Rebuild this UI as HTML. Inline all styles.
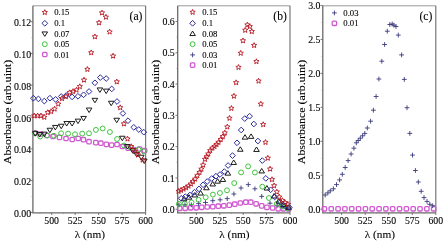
<!DOCTYPE html>
<html><head><meta charset="utf-8"><style>
html,body{margin:0;padding:0;background:#fff;width:445px;height:242px;overflow:hidden}
svg{display:block;will-change:transform}
text{font-family:"Liberation Serif", serif;fill:#000;stroke:#000;stroke-width:0.1px}
</style></head><body>
<svg width="445" height="242" viewBox="0 0 445 242">
<rect width="445" height="242" fill="#fff"/>
<path d="M32.90 5.80H145.60" stroke="#999" stroke-width="1.0" fill="none"/>
<path d="M145.60 5.80V212.80" stroke="#777" stroke-width="1.2" fill="none"/>
<path d="M32.90 5.80V212.80H145.60" stroke="#6a6a6a" stroke-width="1.3" fill="none"/>
<path d="M30.70 212.40H32.90" stroke="#6a6a6a" stroke-width="0.9"/>
<path d="M30.70 180.62H32.90" stroke="#6a6a6a" stroke-width="0.9"/>
<path d="M30.70 148.83H32.90" stroke="#6a6a6a" stroke-width="0.9"/>
<path d="M30.70 117.05H32.90" stroke="#6a6a6a" stroke-width="0.9"/>
<path d="M30.70 85.26H32.90" stroke="#6a6a6a" stroke-width="0.9"/>
<path d="M30.70 53.48H32.90" stroke="#6a6a6a" stroke-width="0.9"/>
<path d="M30.70 21.70H32.90" stroke="#6a6a6a" stroke-width="0.9"/>
<path d="M31.60 196.51H32.90" stroke="#888" stroke-width="0.6"/>
<path d="M31.60 164.72H32.90" stroke="#888" stroke-width="0.6"/>
<path d="M31.60 132.94H32.90" stroke="#888" stroke-width="0.6"/>
<path d="M31.60 101.16H32.90" stroke="#888" stroke-width="0.6"/>
<path d="M31.60 69.37H32.90" stroke="#888" stroke-width="0.6"/>
<path d="M31.60 37.59H32.90" stroke="#888" stroke-width="0.6"/>
<path d="M51.68 212.80V215.00" stroke="#6a6a6a" stroke-width="0.9"/>
<path d="M75.16 212.80V215.00" stroke="#6a6a6a" stroke-width="0.9"/>
<path d="M98.64 212.80V215.00" stroke="#6a6a6a" stroke-width="0.9"/>
<path d="M122.12 212.80V215.00" stroke="#6a6a6a" stroke-width="0.9"/>
<path d="M145.60 212.80V215.00" stroke="#6a6a6a" stroke-width="0.9"/>
<path d="M39.94 212.80V214.10" stroke="#888" stroke-width="0.6"/>
<path d="M63.42 212.80V214.10" stroke="#888" stroke-width="0.6"/>
<path d="M86.90 212.80V214.10" stroke="#888" stroke-width="0.6"/>
<path d="M110.38 212.80V214.10" stroke="#888" stroke-width="0.6"/>
<path d="M133.86 212.80V214.10" stroke="#888" stroke-width="0.6"/>
<text transform="translate(31.20 216.90) scale(1 1.030)" font-size="9.9" text-anchor="end" >0.00</text>
<text transform="translate(31.20 185.12) scale(1 1.030)" font-size="9.9" text-anchor="end" >0.02</text>
<text transform="translate(31.20 153.33) scale(1 1.030)" font-size="9.9" text-anchor="end" >0.04</text>
<text transform="translate(31.20 121.55) scale(1 1.030)" font-size="9.9" text-anchor="end" >0.06</text>
<text transform="translate(31.20 89.76) scale(1 1.030)" font-size="9.9" text-anchor="end" >0.08</text>
<text transform="translate(31.20 57.98) scale(1 1.030)" font-size="9.9" text-anchor="end" >0.10</text>
<text transform="translate(31.20 26.20) scale(1 1.030)" font-size="9.9" text-anchor="end" >0.12</text>
<text transform="translate(51.68 224.10) scale(1 0.970)" font-size="9.8" text-anchor="middle" >500</text>
<text transform="translate(75.16 224.10) scale(1 0.970)" font-size="9.8" text-anchor="middle" >525</text>
<text transform="translate(98.64 224.10) scale(1 0.970)" font-size="9.8" text-anchor="middle" >550</text>
<text transform="translate(122.12 224.10) scale(1 0.970)" font-size="9.8" text-anchor="middle" >575</text>
<text transform="translate(145.60 224.10) scale(1 0.970)" font-size="9.8" text-anchor="middle" >600</text>
<text x="89.85" y="237.50" font-size="11.3" text-anchor="middle" >&#955; (nm)</text>
<text x="0" y="0" font-size="11.2" text-anchor="middle" transform="translate(11.00 112.00) scale(1 1.063) rotate(-90)">Absorbance (arb.uint)</text>
<text x="142.40" y="20.40" font-size="11.6" text-anchor="end" >(a)</text>
<path d="M177.70 5.80H290.00" stroke="#999" stroke-width="1.0" fill="none"/>
<path d="M290.00 5.80V212.80" stroke="#777" stroke-width="1.2" fill="none"/>
<path d="M177.70 5.80V212.80H290.00" stroke="#6a6a6a" stroke-width="1.3" fill="none"/>
<path d="M175.50 209.27H177.70" stroke="#6a6a6a" stroke-width="0.9"/>
<path d="M175.50 177.97H177.70" stroke="#6a6a6a" stroke-width="0.9"/>
<path d="M175.50 146.67H177.70" stroke="#6a6a6a" stroke-width="0.9"/>
<path d="M175.50 115.37H177.70" stroke="#6a6a6a" stroke-width="0.9"/>
<path d="M175.50 84.07H177.70" stroke="#6a6a6a" stroke-width="0.9"/>
<path d="M175.50 52.77H177.70" stroke="#6a6a6a" stroke-width="0.9"/>
<path d="M175.50 21.47H177.70" stroke="#6a6a6a" stroke-width="0.9"/>
<path d="M176.40 193.62H177.70" stroke="#888" stroke-width="0.6"/>
<path d="M176.40 162.32H177.70" stroke="#888" stroke-width="0.6"/>
<path d="M176.40 131.02H177.70" stroke="#888" stroke-width="0.6"/>
<path d="M176.40 99.72H177.70" stroke="#888" stroke-width="0.6"/>
<path d="M176.40 68.42H177.70" stroke="#888" stroke-width="0.6"/>
<path d="M176.40 37.12H177.70" stroke="#888" stroke-width="0.6"/>
<path d="M196.42 212.80V215.00" stroke="#6a6a6a" stroke-width="0.9"/>
<path d="M219.81 212.80V215.00" stroke="#6a6a6a" stroke-width="0.9"/>
<path d="M243.21 212.80V215.00" stroke="#6a6a6a" stroke-width="0.9"/>
<path d="M266.60 212.80V215.00" stroke="#6a6a6a" stroke-width="0.9"/>
<path d="M290.00 212.80V215.00" stroke="#6a6a6a" stroke-width="0.9"/>
<path d="M184.72 212.80V214.10" stroke="#888" stroke-width="0.6"/>
<path d="M208.11 212.80V214.10" stroke="#888" stroke-width="0.6"/>
<path d="M231.51 212.80V214.10" stroke="#888" stroke-width="0.6"/>
<path d="M254.91 212.80V214.10" stroke="#888" stroke-width="0.6"/>
<path d="M278.30 212.80V214.10" stroke="#888" stroke-width="0.6"/>
<text transform="translate(174.80 212.87) scale(1 1.030)" font-size="9.9" text-anchor="end" >0.0</text>
<text transform="translate(174.80 181.57) scale(1 1.030)" font-size="9.9" text-anchor="end" >0.1</text>
<text transform="translate(174.80 150.27) scale(1 1.030)" font-size="9.9" text-anchor="end" >0.2</text>
<text transform="translate(174.80 118.97) scale(1 1.030)" font-size="9.9" text-anchor="end" >0.3</text>
<text transform="translate(174.80 87.67) scale(1 1.030)" font-size="9.9" text-anchor="end" >0.4</text>
<text transform="translate(174.80 56.37) scale(1 1.030)" font-size="9.9" text-anchor="end" >0.5</text>
<text transform="translate(174.80 25.07) scale(1 1.030)" font-size="9.9" text-anchor="end" >0.6</text>
<text transform="translate(196.42 224.10) scale(1 0.970)" font-size="9.8" text-anchor="middle" >500</text>
<text transform="translate(219.81 224.10) scale(1 0.970)" font-size="9.8" text-anchor="middle" >525</text>
<text transform="translate(243.21 224.10) scale(1 0.970)" font-size="9.8" text-anchor="middle" >550</text>
<text transform="translate(266.60 224.10) scale(1 0.970)" font-size="9.8" text-anchor="middle" >575</text>
<text transform="translate(290.00 224.10) scale(1 0.970)" font-size="9.8" text-anchor="middle" >600</text>
<text x="234.45" y="237.50" font-size="11.3" text-anchor="middle" >&#955; (nm)</text>
<text x="0" y="0" font-size="11.2" text-anchor="middle" transform="translate(159.00 112.00) scale(1 1.063) rotate(-90)">Absorbance (arb.uint)</text>
<text x="286.80" y="20.40" font-size="11.6" text-anchor="end" >(b)</text>
<path d="M322.80 5.80H435.80" stroke="#999" stroke-width="1.0" fill="none"/>
<path d="M435.80 5.80V212.80" stroke="#777" stroke-width="1.2" fill="none"/>
<path d="M322.80 5.80V212.80H435.80" stroke="#6a6a6a" stroke-width="1.3" fill="none"/>
<path d="M320.60 209.20H322.80" stroke="#6a6a6a" stroke-width="0.9"/>
<path d="M320.60 175.25H322.80" stroke="#6a6a6a" stroke-width="0.9"/>
<path d="M320.60 141.30H322.80" stroke="#6a6a6a" stroke-width="0.9"/>
<path d="M320.60 107.35H322.80" stroke="#6a6a6a" stroke-width="0.9"/>
<path d="M320.60 73.40H322.80" stroke="#6a6a6a" stroke-width="0.9"/>
<path d="M320.60 39.45H322.80" stroke="#6a6a6a" stroke-width="0.9"/>
<path d="M320.60 5.50H322.80" stroke="#6a6a6a" stroke-width="0.9"/>
<path d="M321.50 192.22H322.80" stroke="#888" stroke-width="0.6"/>
<path d="M321.50 158.27H322.80" stroke="#888" stroke-width="0.6"/>
<path d="M321.50 124.32H322.80" stroke="#888" stroke-width="0.6"/>
<path d="M321.50 90.37H322.80" stroke="#888" stroke-width="0.6"/>
<path d="M321.50 56.42H322.80" stroke="#888" stroke-width="0.6"/>
<path d="M321.50 22.47H322.80" stroke="#888" stroke-width="0.6"/>
<path d="M341.63 212.80V215.00" stroke="#6a6a6a" stroke-width="0.9"/>
<path d="M365.18 212.80V215.00" stroke="#6a6a6a" stroke-width="0.9"/>
<path d="M388.72 212.80V215.00" stroke="#6a6a6a" stroke-width="0.9"/>
<path d="M412.26 212.80V215.00" stroke="#6a6a6a" stroke-width="0.9"/>
<path d="M435.80 212.80V215.00" stroke="#6a6a6a" stroke-width="0.9"/>
<path d="M329.86 212.80V214.10" stroke="#888" stroke-width="0.6"/>
<path d="M353.40 212.80V214.10" stroke="#888" stroke-width="0.6"/>
<path d="M376.95 212.80V214.10" stroke="#888" stroke-width="0.6"/>
<path d="M400.49 212.80V214.10" stroke="#888" stroke-width="0.6"/>
<path d="M424.03 212.80V214.10" stroke="#888" stroke-width="0.6"/>
<text transform="translate(320.50 212.70) scale(1 1.030)" font-size="9.9" text-anchor="end" >0.0</text>
<text transform="translate(320.50 178.75) scale(1 1.030)" font-size="9.9" text-anchor="end" >0.5</text>
<text transform="translate(320.50 144.80) scale(1 1.030)" font-size="9.9" text-anchor="end" >1.0</text>
<text transform="translate(320.50 110.85) scale(1 1.030)" font-size="9.9" text-anchor="end" >1.5</text>
<text transform="translate(320.50 76.90) scale(1 1.030)" font-size="9.9" text-anchor="end" >2.0</text>
<text transform="translate(320.50 42.95) scale(1 1.030)" font-size="9.9" text-anchor="end" >2.5</text>
<text transform="translate(320.50 9.00) scale(1 1.030)" font-size="9.9" text-anchor="end" >3.0</text>
<text transform="translate(341.63 224.10) scale(1 0.970)" font-size="9.8" text-anchor="middle" >500</text>
<text transform="translate(365.18 224.10) scale(1 0.970)" font-size="9.8" text-anchor="middle" >525</text>
<text transform="translate(388.72 224.10) scale(1 0.970)" font-size="9.8" text-anchor="middle" >550</text>
<text transform="translate(412.26 224.10) scale(1 0.970)" font-size="9.8" text-anchor="middle" >575</text>
<text transform="translate(435.80 224.10) scale(1 0.970)" font-size="9.8" text-anchor="middle" >600</text>
<text x="379.90" y="237.50" font-size="11.3" text-anchor="middle" >&#955; (nm)</text>
<text x="0" y="0" font-size="11.2" text-anchor="middle" transform="translate(305.20 112.00) scale(1 1.063) rotate(-90)">Absorbance (arb.uint)</text>
<text x="432.30" y="20.40" font-size="11.6" text-anchor="end" >(c)</text>
<rect x="32.80" y="130.60" width="4.40" height="4.40" rx="1.1" fill="none" stroke="#d058d0" stroke-width="1.3"/>
<rect x="38.80" y="131.80" width="4.40" height="4.40" rx="1.1" fill="none" stroke="#d058d0" stroke-width="1.3"/>
<rect x="44.80" y="133.30" width="4.40" height="4.40" rx="1.1" fill="none" stroke="#d058d0" stroke-width="1.3"/>
<rect x="50.80" y="134.30" width="4.40" height="4.40" rx="1.1" fill="none" stroke="#d058d0" stroke-width="1.3"/>
<rect x="57.30" y="135.20" width="4.40" height="4.40" rx="1.1" fill="none" stroke="#d058d0" stroke-width="1.3"/>
<rect x="63.80" y="136.30" width="4.40" height="4.40" rx="1.1" fill="none" stroke="#d058d0" stroke-width="1.3"/>
<rect x="70.00" y="137.30" width="4.40" height="4.40" rx="1.1" fill="none" stroke="#d058d0" stroke-width="1.3"/>
<rect x="76.00" y="136.30" width="4.40" height="4.40" rx="1.1" fill="none" stroke="#d058d0" stroke-width="1.3"/>
<rect x="81.20" y="137.50" width="4.40" height="4.40" rx="1.1" fill="none" stroke="#d058d0" stroke-width="1.3"/>
<rect x="86.80" y="139.50" width="4.40" height="4.40" rx="1.1" fill="none" stroke="#d058d0" stroke-width="1.3"/>
<rect x="93.60" y="140.40" width="4.40" height="4.40" rx="1.1" fill="none" stroke="#d058d0" stroke-width="1.3"/>
<rect x="98.60" y="141.00" width="4.40" height="4.40" rx="1.1" fill="none" stroke="#d058d0" stroke-width="1.3"/>
<rect x="104.10" y="142.20" width="4.40" height="4.40" rx="1.1" fill="none" stroke="#d058d0" stroke-width="1.3"/>
<rect x="109.40" y="142.90" width="4.40" height="4.40" rx="1.1" fill="none" stroke="#d058d0" stroke-width="1.3"/>
<rect x="114.80" y="142.30" width="4.40" height="4.40" rx="1.1" fill="none" stroke="#d058d0" stroke-width="1.3"/>
<rect x="120.10" y="144.30" width="4.40" height="4.40" rx="1.1" fill="none" stroke="#d058d0" stroke-width="1.3"/>
<rect x="125.90" y="145.90" width="4.40" height="4.40" rx="1.1" fill="none" stroke="#d058d0" stroke-width="1.3"/>
<rect x="131.70" y="147.30" width="4.40" height="4.40" rx="1.1" fill="none" stroke="#d058d0" stroke-width="1.3"/>
<rect x="137.50" y="146.80" width="4.40" height="4.40" rx="1.1" fill="none" stroke="#d058d0" stroke-width="1.3"/>
<rect x="142.40" y="148.40" width="4.40" height="4.40" rx="1.1" fill="none" stroke="#d058d0" stroke-width="1.3"/>
<circle cx="35.00" cy="133.30" r="2.45" fill="none" stroke="#3ec43e" stroke-width="1.0"/>
<circle cx="40.20" cy="136.50" r="2.45" fill="none" stroke="#3ec43e" stroke-width="1.0"/>
<circle cx="47.20" cy="135.50" r="2.45" fill="none" stroke="#3ec43e" stroke-width="1.0"/>
<circle cx="54.00" cy="135.80" r="2.45" fill="none" stroke="#3ec43e" stroke-width="1.0"/>
<circle cx="61.10" cy="133.30" r="2.45" fill="none" stroke="#3ec43e" stroke-width="1.0"/>
<circle cx="68.10" cy="133.60" r="2.45" fill="none" stroke="#3ec43e" stroke-width="1.0"/>
<circle cx="75.00" cy="134.30" r="2.45" fill="none" stroke="#3ec43e" stroke-width="1.0"/>
<circle cx="82.20" cy="133.60" r="2.45" fill="none" stroke="#3ec43e" stroke-width="1.0"/>
<circle cx="89.00" cy="133.30" r="2.45" fill="none" stroke="#3ec43e" stroke-width="1.0"/>
<circle cx="95.90" cy="129.90" r="2.45" fill="none" stroke="#3ec43e" stroke-width="1.0"/>
<circle cx="102.70" cy="128.50" r="2.45" fill="none" stroke="#3ec43e" stroke-width="1.0"/>
<circle cx="109.90" cy="132.00" r="2.45" fill="none" stroke="#3ec43e" stroke-width="1.0"/>
<circle cx="117.10" cy="139.00" r="2.45" fill="none" stroke="#3ec43e" stroke-width="1.0"/>
<circle cx="124.00" cy="145.50" r="2.45" fill="none" stroke="#3ec43e" stroke-width="1.0"/>
<circle cx="131.00" cy="148.00" r="2.45" fill="none" stroke="#3ec43e" stroke-width="1.0"/>
<circle cx="138.30" cy="149.50" r="2.45" fill="none" stroke="#3ec43e" stroke-width="1.0"/>
<circle cx="143.80" cy="151.40" r="2.45" fill="none" stroke="#3ec43e" stroke-width="1.0"/>
<polygon points="32.50,131.64 38.10,131.64 35.30,136.12" fill="none" stroke="#111" stroke-width="0.95"/>
<polygon points="36.80,132.54 42.40,132.54 39.60,137.02" fill="none" stroke="#111" stroke-width="0.95"/>
<polygon points="41.50,132.14 47.10,132.14 44.30,136.62" fill="none" stroke="#111" stroke-width="0.95"/>
<polygon points="47.10,128.24 52.70,128.24 49.90,132.72" fill="none" stroke="#111" stroke-width="0.95"/>
<polygon points="52.50,125.44 58.10,125.44 55.30,129.92" fill="none" stroke="#111" stroke-width="0.95"/>
<polygon points="58.40,124.24 64.00,124.24 61.20,128.72" fill="none" stroke="#111" stroke-width="0.95"/>
<polygon points="63.90,121.54 69.50,121.54 66.70,126.02" fill="none" stroke="#111" stroke-width="0.95"/>
<polygon points="69.30,121.54 74.90,121.54 72.10,126.02" fill="none" stroke="#111" stroke-width="0.95"/>
<polygon points="75.20,119.14 80.80,119.14 78.00,123.62" fill="none" stroke="#111" stroke-width="0.95"/>
<polygon points="80.80,116.44 86.40,116.44 83.60,120.92" fill="none" stroke="#111" stroke-width="0.95"/>
<polygon points="86.30,108.04 91.90,108.04 89.10,112.52" fill="none" stroke="#111" stroke-width="0.95"/>
<polygon points="92.10,98.34 97.70,98.34 94.90,102.82" fill="none" stroke="#111" stroke-width="0.95"/>
<polygon points="97.10,87.94 102.70,87.94 99.90,92.42" fill="none" stroke="#111" stroke-width="0.95"/>
<polygon points="103.40,89.14 109.00,89.14 106.20,93.62" fill="none" stroke="#111" stroke-width="0.95"/>
<polygon points="108.40,101.24 114.00,101.24 111.20,105.72" fill="none" stroke="#111" stroke-width="0.95"/>
<polygon points="113.90,118.24 119.50,118.24 116.70,122.72" fill="none" stroke="#111" stroke-width="0.95"/>
<polygon points="119.50,136.24 125.10,136.24 122.30,140.72" fill="none" stroke="#111" stroke-width="0.95"/>
<polygon points="124.60,144.54 130.20,144.54 127.40,149.02" fill="none" stroke="#111" stroke-width="0.95"/>
<polygon points="129.90,148.64 135.50,148.64 132.70,153.12" fill="none" stroke="#111" stroke-width="0.95"/>
<polygon points="133.90,152.44 139.50,152.44 136.70,156.92" fill="none" stroke="#111" stroke-width="0.95"/>
<polygon points="138.50,155.24 144.10,155.24 141.30,159.72" fill="none" stroke="#111" stroke-width="0.95"/>
<polygon points="141.50,159.04 147.10,159.04 144.30,163.52" fill="none" stroke="#111" stroke-width="0.95"/>
<polygon points="33.40,95.35 36.25,98.20 33.40,101.05 30.55,98.20" fill="none" stroke="#2a2a9e" stroke-width="1.0"/>
<polygon points="38.40,96.05 41.25,98.90 38.40,101.75 35.55,98.90" fill="none" stroke="#2a2a9e" stroke-width="1.0"/>
<polygon points="44.30,98.25 47.15,101.10 44.30,103.95 41.45,101.10" fill="none" stroke="#2a2a9e" stroke-width="1.0"/>
<polygon points="49.90,95.35 52.75,98.20 49.90,101.05 47.05,98.20" fill="none" stroke="#2a2a9e" stroke-width="1.0"/>
<polygon points="55.60,96.55 58.45,99.40 55.60,102.25 52.75,99.40" fill="none" stroke="#2a2a9e" stroke-width="1.0"/>
<polygon points="61.20,93.65 64.05,96.50 61.20,99.35 58.35,96.50" fill="none" stroke="#2a2a9e" stroke-width="1.0"/>
<polygon points="66.20,92.65 69.05,95.50 66.20,98.35 63.35,95.50" fill="none" stroke="#2a2a9e" stroke-width="1.0"/>
<polygon points="72.10,94.05 74.95,96.90 72.10,99.75 69.25,96.90" fill="none" stroke="#2a2a9e" stroke-width="1.0"/>
<polygon points="78.00,93.45 80.85,96.30 78.00,99.15 75.15,96.30" fill="none" stroke="#2a2a9e" stroke-width="1.0"/>
<polygon points="83.60,91.95 86.45,94.80 83.60,97.65 80.75,94.80" fill="none" stroke="#2a2a9e" stroke-width="1.0"/>
<polygon points="89.00,88.65 91.85,91.50 89.00,94.35 86.15,91.50" fill="none" stroke="#2a2a9e" stroke-width="1.0"/>
<polygon points="94.90,79.95 97.75,82.80 94.90,85.65 92.05,82.80" fill="none" stroke="#2a2a9e" stroke-width="1.0"/>
<polygon points="100.30,74.75 103.15,77.60 100.30,80.45 97.45,77.60" fill="none" stroke="#2a2a9e" stroke-width="1.0"/>
<polygon points="106.20,75.65 109.05,78.50 106.20,81.35 103.35,78.50" fill="none" stroke="#2a2a9e" stroke-width="1.0"/>
<polygon points="111.70,86.05 114.55,88.90 111.70,91.75 108.85,88.90" fill="none" stroke="#2a2a9e" stroke-width="1.0"/>
<polygon points="117.00,98.65 119.85,101.50 117.00,104.35 114.15,101.50" fill="none" stroke="#2a2a9e" stroke-width="1.0"/>
<polygon points="122.90,110.55 125.75,113.40 122.90,116.25 120.05,113.40" fill="none" stroke="#2a2a9e" stroke-width="1.0"/>
<polygon points="128.00,117.85 130.85,120.70 128.00,123.55 125.15,120.70" fill="none" stroke="#2a2a9e" stroke-width="1.0"/>
<polygon points="133.80,124.45 136.65,127.30 133.80,130.15 130.95,127.30" fill="none" stroke="#2a2a9e" stroke-width="1.0"/>
<polygon points="138.80,126.65 141.65,129.50 138.80,132.35 135.95,129.50" fill="none" stroke="#2a2a9e" stroke-width="1.0"/>
<polygon points="143.80,129.35 146.65,132.20 143.80,135.05 140.95,132.20" fill="none" stroke="#2a2a9e" stroke-width="1.0"/>
<polygon points="34.20,113.05 34.93,114.80 36.82,114.95 35.38,116.18 35.82,118.02 34.20,117.04 32.58,118.02 33.02,116.18 31.58,114.95 33.47,114.80" fill="none" stroke="#b81e28" stroke-width="0.95" stroke-linejoin="miter"/>
<polygon points="37.60,113.05 38.33,114.80 40.22,114.95 38.78,116.18 39.22,118.02 37.60,117.04 35.98,118.02 36.42,116.18 34.98,114.95 36.87,114.80" fill="none" stroke="#b81e28" stroke-width="0.95" stroke-linejoin="miter"/>
<polygon points="41.00,113.05 41.73,114.80 43.62,114.95 42.18,116.18 42.62,118.02 41.00,117.04 39.38,118.02 39.82,116.18 38.38,114.95 40.27,114.80" fill="none" stroke="#b81e28" stroke-width="0.95" stroke-linejoin="miter"/>
<polygon points="44.30,114.45 45.03,116.20 46.92,116.35 45.48,117.58 45.92,119.42 44.30,118.44 42.68,119.42 43.12,117.58 41.68,116.35 43.57,116.20" fill="none" stroke="#b81e28" stroke-width="0.95" stroke-linejoin="miter"/>
<polygon points="47.70,109.75 48.43,111.50 50.32,111.65 48.88,112.88 49.32,114.72 47.70,113.74 46.08,114.72 46.52,112.88 45.08,111.65 46.97,111.50" fill="none" stroke="#b81e28" stroke-width="0.95" stroke-linejoin="miter"/>
<polygon points="51.10,108.75 51.83,110.50 53.72,110.65 52.28,111.88 52.72,113.72 51.10,112.74 49.48,113.72 49.92,111.88 48.48,110.65 50.37,110.50" fill="none" stroke="#b81e28" stroke-width="0.95" stroke-linejoin="miter"/>
<polygon points="54.60,106.25 55.33,108.00 57.22,108.15 55.78,109.38 56.22,111.22 54.60,110.24 52.98,111.22 53.42,109.38 51.98,108.15 53.87,108.00" fill="none" stroke="#b81e28" stroke-width="0.95" stroke-linejoin="miter"/>
<polygon points="58.30,101.25 59.03,103.00 60.92,103.15 59.48,104.38 59.92,106.22 58.30,105.24 56.68,106.22 57.12,104.38 55.68,103.15 57.57,103.00" fill="none" stroke="#b81e28" stroke-width="0.95" stroke-linejoin="miter"/>
<polygon points="62.00,95.75 62.73,97.50 64.62,97.65 63.18,98.88 63.62,100.72 62.00,99.74 60.38,100.72 60.82,98.88 59.38,97.65 61.27,97.50" fill="none" stroke="#b81e28" stroke-width="0.95" stroke-linejoin="miter"/>
<polygon points="66.00,93.75 66.73,95.50 68.62,95.65 67.18,96.88 67.62,98.72 66.00,97.74 64.38,98.72 64.82,96.88 63.38,95.65 65.27,95.50" fill="none" stroke="#b81e28" stroke-width="0.95" stroke-linejoin="miter"/>
<polygon points="69.60,89.85 70.33,91.60 72.22,91.75 70.78,92.98 71.22,94.82 69.60,93.84 67.98,94.82 68.42,92.98 66.98,91.75 68.87,91.60" fill="none" stroke="#b81e28" stroke-width="0.95" stroke-linejoin="miter"/>
<polygon points="73.00,88.75 73.73,90.50 75.62,90.65 74.18,91.88 74.62,93.72 73.00,92.74 71.38,93.72 71.82,91.88 70.38,90.65 72.27,90.50" fill="none" stroke="#b81e28" stroke-width="0.95" stroke-linejoin="miter"/>
<polygon points="76.50,87.25 77.23,89.00 79.12,89.15 77.68,90.38 78.12,92.22 76.50,91.24 74.88,92.22 75.32,90.38 73.88,89.15 75.77,89.00" fill="none" stroke="#b81e28" stroke-width="0.95" stroke-linejoin="miter"/>
<polygon points="79.80,83.75 80.53,85.50 82.42,85.65 80.98,86.88 81.42,88.72 79.80,87.74 78.18,88.72 78.62,86.88 77.18,85.65 79.07,85.50" fill="none" stroke="#b81e28" stroke-width="0.95" stroke-linejoin="miter"/>
<polygon points="84.00,77.25 84.73,79.00 86.62,79.15 85.18,80.38 85.62,82.22 84.00,81.24 82.38,82.22 82.82,80.38 81.38,79.15 83.27,79.00" fill="none" stroke="#b81e28" stroke-width="0.95" stroke-linejoin="miter"/>
<polygon points="87.40,66.55 88.13,68.30 90.02,68.45 88.58,69.68 89.02,71.52 87.40,70.54 85.78,71.52 86.22,69.68 84.78,68.45 86.67,68.30" fill="none" stroke="#b81e28" stroke-width="0.95" stroke-linejoin="miter"/>
<polygon points="91.20,49.95 91.93,51.70 93.82,51.85 92.38,53.08 92.82,54.92 91.20,53.94 89.58,54.92 90.02,53.08 88.58,51.85 90.47,51.70" fill="none" stroke="#b81e28" stroke-width="0.95" stroke-linejoin="miter"/>
<polygon points="94.90,33.95 95.63,35.70 97.52,35.85 96.08,37.08 96.52,38.92 94.90,37.94 93.28,38.92 93.72,37.08 92.28,35.85 94.17,35.70" fill="none" stroke="#b81e28" stroke-width="0.95" stroke-linejoin="miter"/>
<polygon points="99.00,19.95 99.73,21.70 101.62,21.85 100.18,23.08 100.62,24.92 99.00,23.94 97.38,24.92 97.82,23.08 96.38,21.85 98.27,21.70" fill="none" stroke="#b81e28" stroke-width="0.95" stroke-linejoin="miter"/>
<polygon points="102.00,10.05 102.73,11.80 104.62,11.95 103.18,13.18 103.62,15.02 102.00,14.04 100.38,15.02 100.82,13.18 99.38,11.95 101.27,11.80" fill="none" stroke="#b81e28" stroke-width="0.95" stroke-linejoin="miter"/>
<polygon points="105.90,14.35 106.63,16.10 108.52,16.25 107.08,17.48 107.52,19.32 105.90,18.34 104.28,19.32 104.72,17.48 103.28,16.25 105.17,16.10" fill="none" stroke="#b81e28" stroke-width="0.95" stroke-linejoin="miter"/>
<polygon points="109.60,29.15 110.33,30.90 112.22,31.05 110.78,32.28 111.22,34.12 109.60,33.14 107.98,34.12 108.42,32.28 106.98,31.05 108.87,30.90" fill="none" stroke="#b81e28" stroke-width="0.95" stroke-linejoin="miter"/>
<polygon points="113.10,53.25 113.83,55.00 115.72,55.15 114.28,56.38 114.72,58.22 113.10,57.24 111.48,58.22 111.92,56.38 110.48,55.15 112.37,55.00" fill="none" stroke="#b81e28" stroke-width="0.95" stroke-linejoin="miter"/>
<polygon points="116.80,79.05 117.53,80.80 119.42,80.95 117.98,82.18 118.42,84.02 116.80,83.04 115.18,84.02 115.62,82.18 114.18,80.95 116.07,80.80" fill="none" stroke="#b81e28" stroke-width="0.95" stroke-linejoin="miter"/>
<polygon points="120.20,104.85 120.93,106.60 122.82,106.75 121.38,107.98 121.82,109.82 120.20,108.84 118.58,109.82 119.02,107.98 117.58,106.75 119.47,106.60" fill="none" stroke="#b81e28" stroke-width="0.95" stroke-linejoin="miter"/>
<polygon points="123.90,121.05 124.63,122.80 126.52,122.95 125.08,124.18 125.52,126.02 123.90,125.04 122.28,126.02 122.72,124.18 121.28,122.95 123.17,122.80" fill="none" stroke="#b81e28" stroke-width="0.95" stroke-linejoin="miter"/>
<polygon points="127.50,136.15 128.23,137.90 130.12,138.05 128.68,139.28 129.12,141.12 127.50,140.14 125.88,141.12 126.32,139.28 124.88,138.05 126.77,137.90" fill="none" stroke="#b81e28" stroke-width="0.95" stroke-linejoin="miter"/>
<polygon points="131.30,143.75 132.03,145.50 133.92,145.65 132.48,146.88 132.92,148.72 131.30,147.74 129.68,148.72 130.12,146.88 128.68,145.65 130.57,145.50" fill="none" stroke="#b81e28" stroke-width="0.95" stroke-linejoin="miter"/>
<polygon points="134.70,148.65 135.43,150.40 137.32,150.55 135.88,151.78 136.32,153.62 134.70,152.64 133.08,153.62 133.52,151.78 132.08,150.55 133.97,150.40" fill="none" stroke="#b81e28" stroke-width="0.95" stroke-linejoin="miter"/>
<polygon points="138.00,152.25 138.73,154.00 140.62,154.15 139.18,155.38 139.62,157.22 138.00,156.24 136.38,157.22 136.82,155.38 135.38,154.15 137.27,154.00" fill="none" stroke="#b81e28" stroke-width="0.95" stroke-linejoin="miter"/>
<polygon points="142.60,157.25 143.33,159.00 145.22,159.15 143.78,160.38 144.22,162.22 142.60,161.24 140.98,162.22 141.42,160.38 139.98,159.15 141.87,159.00" fill="none" stroke="#b81e28" stroke-width="0.95" stroke-linejoin="miter"/>
<rect x="177.50" y="206.10" width="4.40" height="4.40" rx="1.1" fill="none" stroke="#d058d0" stroke-width="1.3"/>
<rect x="183.00" y="206.10" width="4.40" height="4.40" rx="1.1" fill="none" stroke="#d058d0" stroke-width="1.3"/>
<rect x="188.50" y="205.60" width="4.40" height="4.40" rx="1.1" fill="none" stroke="#d058d0" stroke-width="1.3"/>
<rect x="194.00" y="205.60" width="4.40" height="4.40" rx="1.1" fill="none" stroke="#d058d0" stroke-width="1.3"/>
<rect x="199.50" y="205.10" width="4.40" height="4.40" rx="1.1" fill="none" stroke="#d058d0" stroke-width="1.3"/>
<rect x="205.00" y="204.80" width="4.40" height="4.40" rx="1.1" fill="none" stroke="#d058d0" stroke-width="1.3"/>
<rect x="210.60" y="204.50" width="4.40" height="4.40" rx="1.1" fill="none" stroke="#d058d0" stroke-width="1.3"/>
<rect x="216.10" y="204.00" width="4.40" height="4.40" rx="1.1" fill="none" stroke="#d058d0" stroke-width="1.3"/>
<rect x="221.60" y="203.60" width="4.40" height="4.40" rx="1.1" fill="none" stroke="#d058d0" stroke-width="1.3"/>
<rect x="227.10" y="202.90" width="4.40" height="4.40" rx="1.1" fill="none" stroke="#d058d0" stroke-width="1.3"/>
<rect x="232.60" y="202.00" width="4.40" height="4.40" rx="1.1" fill="none" stroke="#d058d0" stroke-width="1.3"/>
<rect x="238.10" y="200.80" width="4.40" height="4.40" rx="1.1" fill="none" stroke="#d058d0" stroke-width="1.3"/>
<rect x="243.60" y="200.00" width="4.40" height="4.40" rx="1.1" fill="none" stroke="#d058d0" stroke-width="1.3"/>
<rect x="248.50" y="200.00" width="4.40" height="4.40" rx="1.1" fill="none" stroke="#d058d0" stroke-width="1.3"/>
<rect x="253.90" y="201.60" width="4.40" height="4.40" rx="1.1" fill="none" stroke="#d058d0" stroke-width="1.3"/>
<rect x="259.50" y="203.70" width="4.40" height="4.40" rx="1.1" fill="none" stroke="#d058d0" stroke-width="1.3"/>
<rect x="264.70" y="205.20" width="4.40" height="4.40" rx="1.1" fill="none" stroke="#d058d0" stroke-width="1.3"/>
<rect x="270.40" y="205.80" width="4.40" height="4.40" rx="1.1" fill="none" stroke="#d058d0" stroke-width="1.3"/>
<rect x="276.00" y="206.60" width="4.40" height="4.40" rx="1.1" fill="none" stroke="#d058d0" stroke-width="1.3"/>
<rect x="281.20" y="206.60" width="4.40" height="4.40" rx="1.1" fill="none" stroke="#d058d0" stroke-width="1.3"/>
<rect x="286.40" y="206.60" width="4.40" height="4.40" rx="1.1" fill="none" stroke="#d058d0" stroke-width="1.3"/>
<path d="M176.60 205.00H181.40M179.00 202.60V207.40" stroke="#3a3a7c" stroke-width="0.9" fill="none"/>
<path d="M182.60 204.80H187.40M185.00 202.40V207.20" stroke="#3a3a7c" stroke-width="0.9" fill="none"/>
<path d="M188.90 204.80H193.70M191.30 202.40V207.20" stroke="#3a3a7c" stroke-width="0.9" fill="none"/>
<path d="M196.20 203.60H201.00M198.60 201.20V206.00" stroke="#3a3a7c" stroke-width="0.9" fill="none"/>
<path d="M203.10 202.50H207.90M205.50 200.10V204.90" stroke="#3a3a7c" stroke-width="0.9" fill="none"/>
<path d="M210.40 200.70H215.20M212.80 198.30V203.10" stroke="#3a3a7c" stroke-width="0.9" fill="none"/>
<path d="M217.70 199.80H222.50M220.10 197.40V202.20" stroke="#3a3a7c" stroke-width="0.9" fill="none"/>
<path d="M224.80 198.60H229.60M227.20 196.20V201.00" stroke="#3a3a7c" stroke-width="0.9" fill="none"/>
<path d="M231.50 194.00H236.30M233.90 191.60V196.40" stroke="#3a3a7c" stroke-width="0.9" fill="none"/>
<path d="M238.60 188.00H243.40M241.00 185.60V190.40" stroke="#3a3a7c" stroke-width="0.9" fill="none"/>
<path d="M245.90 184.60H250.70M248.30 182.20V187.00" stroke="#3a3a7c" stroke-width="0.9" fill="none"/>
<path d="M252.50 188.80H257.30M254.90 186.40V191.20" stroke="#3a3a7c" stroke-width="0.9" fill="none"/>
<path d="M259.30 196.40H264.10M261.70 194.00V198.80" stroke="#3a3a7c" stroke-width="0.9" fill="none"/>
<path d="M267.60 203.20H272.40M270.00 200.80V205.60" stroke="#3a3a7c" stroke-width="0.9" fill="none"/>
<path d="M274.80 205.30H279.60M277.20 202.90V207.70" stroke="#3a3a7c" stroke-width="0.9" fill="none"/>
<path d="M280.60 207.00H285.40M283.00 204.60V209.40" stroke="#3a3a7c" stroke-width="0.9" fill="none"/>
<path d="M285.60 208.00H290.40M288.00 205.60V210.40" stroke="#3a3a7c" stroke-width="0.9" fill="none"/>
<circle cx="178.90" cy="203.90" r="2.45" fill="none" stroke="#3ec43e" stroke-width="1.0"/>
<circle cx="184.80" cy="203.60" r="2.45" fill="none" stroke="#3ec43e" stroke-width="1.0"/>
<circle cx="191.50" cy="202.40" r="2.45" fill="none" stroke="#3ec43e" stroke-width="1.0"/>
<circle cx="198.60" cy="199.90" r="2.45" fill="none" stroke="#3ec43e" stroke-width="1.0"/>
<circle cx="205.70" cy="197.30" r="2.45" fill="none" stroke="#3ec43e" stroke-width="1.0"/>
<circle cx="212.90" cy="194.60" r="2.45" fill="none" stroke="#3ec43e" stroke-width="1.0"/>
<circle cx="219.90" cy="193.00" r="2.45" fill="none" stroke="#3ec43e" stroke-width="1.0"/>
<circle cx="227.00" cy="190.30" r="2.45" fill="none" stroke="#3ec43e" stroke-width="1.0"/>
<circle cx="234.20" cy="183.10" r="2.45" fill="none" stroke="#3ec43e" stroke-width="1.0"/>
<circle cx="241.10" cy="172.40" r="2.45" fill="none" stroke="#3ec43e" stroke-width="1.0"/>
<circle cx="248.10" cy="166.40" r="2.45" fill="none" stroke="#3ec43e" stroke-width="1.0"/>
<circle cx="254.90" cy="172.50" r="2.45" fill="none" stroke="#3ec43e" stroke-width="1.0"/>
<circle cx="262.30" cy="186.70" r="2.45" fill="none" stroke="#3ec43e" stroke-width="1.0"/>
<circle cx="268.90" cy="198.00" r="2.45" fill="none" stroke="#3ec43e" stroke-width="1.0"/>
<circle cx="276.80" cy="203.80" r="2.45" fill="none" stroke="#3ec43e" stroke-width="1.0"/>
<circle cx="282.40" cy="206.30" r="2.45" fill="none" stroke="#3ec43e" stroke-width="1.0"/>
<circle cx="287.50" cy="208.40" r="2.45" fill="none" stroke="#3ec43e" stroke-width="1.0"/>
<polygon points="181.30,200.76 186.90,200.76 184.10,196.28" fill="none" stroke="#111" stroke-width="0.95"/>
<polygon points="186.20,199.16 191.80,199.16 189.00,194.68" fill="none" stroke="#111" stroke-width="0.95"/>
<polygon points="192.00,196.96 197.60,196.96 194.80,192.48" fill="none" stroke="#111" stroke-width="0.95"/>
<polygon points="197.80,195.06 203.40,195.06 200.60,190.58" fill="none" stroke="#111" stroke-width="0.95"/>
<polygon points="203.60,189.76 209.20,189.76 206.40,185.28" fill="none" stroke="#111" stroke-width="0.95"/>
<polygon points="209.90,185.96 215.50,185.96 212.70,181.48" fill="none" stroke="#111" stroke-width="0.95"/>
<polygon points="214.80,183.16 220.40,183.16 217.60,178.68" fill="none" stroke="#111" stroke-width="0.95"/>
<polygon points="220.10,181.46 225.70,181.46 222.90,176.98" fill="none" stroke="#111" stroke-width="0.95"/>
<polygon points="225.10,175.16 230.70,175.16 227.90,170.68" fill="none" stroke="#111" stroke-width="0.95"/>
<polygon points="230.90,164.46 236.50,164.46 233.70,159.98" fill="none" stroke="#111" stroke-width="0.95"/>
<polygon points="237.50,151.26 243.10,151.26 240.30,146.78" fill="none" stroke="#111" stroke-width="0.95"/>
<polygon points="242.20,139.16 247.80,139.16 245.00,134.68" fill="none" stroke="#111" stroke-width="0.95"/>
<polygon points="248.30,138.36 253.90,138.36 251.10,133.88" fill="none" stroke="#111" stroke-width="0.95"/>
<polygon points="253.70,151.46 259.30,151.46 256.50,146.98" fill="none" stroke="#111" stroke-width="0.95"/>
<polygon points="258.90,172.96 264.50,172.96 261.70,168.48" fill="none" stroke="#111" stroke-width="0.95"/>
<polygon points="264.10,190.06 269.70,190.06 266.90,185.58" fill="none" stroke="#111" stroke-width="0.95"/>
<polygon points="271.30,197.96 276.90,197.96 274.10,193.48" fill="none" stroke="#111" stroke-width="0.95"/>
<polygon points="276.00,203.16 281.60,203.16 278.80,198.68" fill="none" stroke="#111" stroke-width="0.95"/>
<polygon points="280.60,206.66 286.20,206.66 283.40,202.18" fill="none" stroke="#111" stroke-width="0.95"/>
<polygon points="285.80,209.36 291.40,209.36 288.60,204.88" fill="none" stroke="#111" stroke-width="0.95"/>
<polygon points="181.30,195.45 184.15,198.30 181.30,201.15 178.45,198.30" fill="none" stroke="#2a2a9e" stroke-width="1.0"/>
<polygon points="185.20,193.85 188.05,196.70 185.20,199.55 182.35,196.70" fill="none" stroke="#2a2a9e" stroke-width="1.0"/>
<polygon points="189.90,192.15 192.75,195.00 189.90,197.85 187.05,195.00" fill="none" stroke="#2a2a9e" stroke-width="1.0"/>
<polygon points="194.50,189.35 197.35,192.20 194.50,195.05 191.65,192.20" fill="none" stroke="#2a2a9e" stroke-width="1.0"/>
<polygon points="199.00,186.05 201.85,188.90 199.00,191.75 196.15,188.90" fill="none" stroke="#2a2a9e" stroke-width="1.0"/>
<polygon points="203.10,181.95 205.95,184.80 203.10,187.65 200.25,184.80" fill="none" stroke="#2a2a9e" stroke-width="1.0"/>
<polygon points="207.20,178.65 210.05,181.50 207.20,184.35 204.35,181.50" fill="none" stroke="#2a2a9e" stroke-width="1.0"/>
<polygon points="211.70,175.65 214.55,178.50 211.70,181.35 208.85,178.50" fill="none" stroke="#2a2a9e" stroke-width="1.0"/>
<polygon points="216.00,173.35 218.85,176.20 216.00,179.05 213.15,176.20" fill="none" stroke="#2a2a9e" stroke-width="1.0"/>
<polygon points="220.00,171.65 222.85,174.50 220.00,177.35 217.15,174.50" fill="none" stroke="#2a2a9e" stroke-width="1.0"/>
<polygon points="224.30,168.75 227.15,171.60 224.30,174.45 221.45,171.60" fill="none" stroke="#2a2a9e" stroke-width="1.0"/>
<polygon points="228.10,162.65 230.95,165.50 228.10,168.35 225.25,165.50" fill="none" stroke="#2a2a9e" stroke-width="1.0"/>
<polygon points="232.50,152.75 235.35,155.60 232.50,158.45 229.65,155.60" fill="none" stroke="#2a2a9e" stroke-width="1.0"/>
<polygon points="237.00,139.95 239.85,142.80 237.00,145.65 234.15,142.80" fill="none" stroke="#2a2a9e" stroke-width="1.0"/>
<polygon points="241.20,127.15 244.05,130.00 241.20,132.85 238.35,130.00" fill="none" stroke="#2a2a9e" stroke-width="1.0"/>
<polygon points="244.70,115.75 247.55,118.60 244.70,121.45 241.85,118.60" fill="none" stroke="#2a2a9e" stroke-width="1.0"/>
<polygon points="249.60,113.35 252.45,116.20 249.60,119.05 246.75,116.20" fill="none" stroke="#2a2a9e" stroke-width="1.0"/>
<polygon points="253.80,121.15 256.65,124.00 253.80,126.85 250.95,124.00" fill="none" stroke="#2a2a9e" stroke-width="1.0"/>
<polygon points="257.90,138.15 260.75,141.00 257.90,143.85 255.05,141.00" fill="none" stroke="#2a2a9e" stroke-width="1.0"/>
<polygon points="262.30,157.75 265.15,160.60 262.30,163.45 259.45,160.60" fill="none" stroke="#2a2a9e" stroke-width="1.0"/>
<polygon points="265.80,175.55 268.65,178.40 265.80,181.25 262.95,178.40" fill="none" stroke="#2a2a9e" stroke-width="1.0"/>
<polygon points="270.60,186.95 273.45,189.80 270.60,192.65 267.75,189.80" fill="none" stroke="#2a2a9e" stroke-width="1.0"/>
<polygon points="274.70,194.15 277.55,197.00 274.70,199.85 271.85,197.00" fill="none" stroke="#2a2a9e" stroke-width="1.0"/>
<polygon points="280.30,199.35 283.15,202.20 280.30,205.05 277.45,202.20" fill="none" stroke="#2a2a9e" stroke-width="1.0"/>
<polygon points="285.00,203.05 287.85,205.90 285.00,208.75 282.15,205.90" fill="none" stroke="#2a2a9e" stroke-width="1.0"/>
<polygon points="289.30,204.55 292.15,207.40 289.30,210.25 286.45,207.40" fill="none" stroke="#2a2a9e" stroke-width="1.0"/>
<polygon points="178.60,188.55 179.33,190.30 181.22,190.45 179.78,191.68 180.22,193.52 178.60,192.54 176.98,193.52 177.42,191.68 175.98,190.45 177.87,190.30" fill="none" stroke="#b81e28" stroke-width="0.95" stroke-linejoin="miter"/>
<polygon points="181.00,187.45 181.73,189.20 183.62,189.35 182.18,190.58 182.62,192.42 181.00,191.44 179.38,192.42 179.82,190.58 178.38,189.35 180.27,189.20" fill="none" stroke="#b81e28" stroke-width="0.95" stroke-linejoin="miter"/>
<polygon points="183.50,186.25 184.23,188.00 186.12,188.15 184.68,189.38 185.12,191.22 183.50,190.24 181.88,191.22 182.32,189.38 180.88,188.15 182.77,188.00" fill="none" stroke="#b81e28" stroke-width="0.95" stroke-linejoin="miter"/>
<polygon points="186.00,184.85 186.73,186.60 188.62,186.75 187.18,187.98 187.62,189.82 186.00,188.84 184.38,189.82 184.82,187.98 183.38,186.75 185.27,186.60" fill="none" stroke="#b81e28" stroke-width="0.95" stroke-linejoin="miter"/>
<polygon points="188.50,183.25 189.23,185.00 191.12,185.15 189.68,186.38 190.12,188.22 188.50,187.24 186.88,188.22 187.32,186.38 185.88,185.15 187.77,185.00" fill="none" stroke="#b81e28" stroke-width="0.95" stroke-linejoin="miter"/>
<polygon points="190.90,181.25 191.63,183.00 193.52,183.15 192.08,184.38 192.52,186.22 190.90,185.24 189.28,186.22 189.72,184.38 188.28,183.15 190.17,183.00" fill="none" stroke="#b81e28" stroke-width="0.95" stroke-linejoin="miter"/>
<polygon points="192.90,178.75 193.63,180.50 195.52,180.65 194.08,181.88 194.52,183.72 192.90,182.74 191.28,183.72 191.72,181.88 190.28,180.65 192.17,180.50" fill="none" stroke="#b81e28" stroke-width="0.95" stroke-linejoin="miter"/>
<polygon points="195.20,176.25 195.93,178.00 197.82,178.15 196.38,179.38 196.82,181.22 195.20,180.24 193.58,181.22 194.02,179.38 192.58,178.15 194.47,178.00" fill="none" stroke="#b81e28" stroke-width="0.95" stroke-linejoin="miter"/>
<polygon points="197.30,172.95 198.03,174.70 199.92,174.85 198.48,176.08 198.92,177.92 197.30,176.94 195.68,177.92 196.12,176.08 194.68,174.85 196.57,174.70" fill="none" stroke="#b81e28" stroke-width="0.95" stroke-linejoin="miter"/>
<polygon points="199.50,169.65 200.23,171.40 202.12,171.55 200.68,172.78 201.12,174.62 199.50,173.64 197.88,174.62 198.32,172.78 196.88,171.55 198.77,171.40" fill="none" stroke="#b81e28" stroke-width="0.95" stroke-linejoin="miter"/>
<polygon points="201.40,166.35 202.13,168.10 204.02,168.25 202.58,169.48 203.02,171.32 201.40,170.34 199.78,171.32 200.22,169.48 198.78,168.25 200.67,168.10" fill="none" stroke="#b81e28" stroke-width="0.95" stroke-linejoin="miter"/>
<polygon points="203.10,162.25 203.83,164.00 205.72,164.15 204.28,165.38 204.72,167.22 203.10,166.24 201.48,167.22 201.92,165.38 200.48,164.15 202.37,164.00" fill="none" stroke="#b81e28" stroke-width="0.95" stroke-linejoin="miter"/>
<polygon points="205.00,156.55 205.73,158.30 207.62,158.45 206.18,159.68 206.62,161.52 205.00,160.54 203.38,161.52 203.82,159.68 202.38,158.45 204.27,158.30" fill="none" stroke="#b81e28" stroke-width="0.95" stroke-linejoin="miter"/>
<polygon points="206.60,153.95 207.33,155.70 209.22,155.85 207.78,157.08 208.22,158.92 206.60,157.94 204.98,158.92 205.42,157.08 203.98,155.85 205.87,155.70" fill="none" stroke="#b81e28" stroke-width="0.95" stroke-linejoin="miter"/>
<polygon points="208.30,151.15 209.03,152.90 210.92,153.05 209.48,154.28 209.92,156.12 208.30,155.14 206.68,156.12 207.12,154.28 205.68,153.05 207.57,152.90" fill="none" stroke="#b81e28" stroke-width="0.95" stroke-linejoin="miter"/>
<polygon points="210.20,147.85 210.93,149.60 212.82,149.75 211.38,150.98 211.82,152.82 210.20,151.84 208.58,152.82 209.02,150.98 207.58,149.75 209.47,149.60" fill="none" stroke="#b81e28" stroke-width="0.95" stroke-linejoin="miter"/>
<polygon points="212.40,145.35 213.13,147.10 215.02,147.25 213.58,148.48 214.02,150.32 212.40,149.34 210.78,150.32 211.22,148.48 209.78,147.25 211.67,147.10" fill="none" stroke="#b81e28" stroke-width="0.95" stroke-linejoin="miter"/>
<polygon points="214.50,143.65 215.23,145.40 217.12,145.55 215.68,146.78 216.12,148.62 214.50,147.64 212.88,148.62 213.32,146.78 211.88,145.55 213.77,145.40" fill="none" stroke="#b81e28" stroke-width="0.95" stroke-linejoin="miter"/>
<polygon points="216.50,141.75 217.23,143.50 219.12,143.65 217.68,144.88 218.12,146.72 216.50,145.74 214.88,146.72 215.32,144.88 213.88,143.65 215.77,143.50" fill="none" stroke="#b81e28" stroke-width="0.95" stroke-linejoin="miter"/>
<polygon points="218.50,139.55 219.23,141.30 221.12,141.45 219.68,142.68 220.12,144.52 218.50,143.54 216.88,144.52 217.32,142.68 215.88,141.45 217.77,141.30" fill="none" stroke="#b81e28" stroke-width="0.95" stroke-linejoin="miter"/>
<polygon points="220.70,136.75 221.43,138.50 223.32,138.65 221.88,139.88 222.32,141.72 220.70,140.74 219.08,141.72 219.52,139.88 218.08,138.65 219.97,138.50" fill="none" stroke="#b81e28" stroke-width="0.95" stroke-linejoin="miter"/>
<polygon points="222.80,133.75 223.53,135.50 225.42,135.65 223.98,136.88 224.42,138.72 222.80,137.74 221.18,138.72 221.62,136.88 220.18,135.65 222.07,135.50" fill="none" stroke="#b81e28" stroke-width="0.95" stroke-linejoin="miter"/>
<polygon points="224.80,130.15 225.53,131.90 227.42,132.05 225.98,133.28 226.42,135.12 224.80,134.14 223.18,135.12 223.62,133.28 222.18,132.05 224.07,131.90" fill="none" stroke="#b81e28" stroke-width="0.95" stroke-linejoin="miter"/>
<polygon points="227.30,124.15 228.03,125.90 229.92,126.05 228.48,127.28 228.92,129.12 227.30,128.14 225.68,129.12 226.12,127.28 224.68,126.05 226.57,125.90" fill="none" stroke="#b81e28" stroke-width="0.95" stroke-linejoin="miter"/>
<polygon points="229.50,115.45 230.23,117.20 232.12,117.35 230.68,118.58 231.12,120.42 229.50,119.44 227.88,120.42 228.32,118.58 226.88,117.35 228.77,117.20" fill="none" stroke="#b81e28" stroke-width="0.95" stroke-linejoin="miter"/>
<polygon points="231.40,105.55 232.13,107.30 234.02,107.45 232.58,108.68 233.02,110.52 231.40,109.54 229.78,110.52 230.22,108.68 228.78,107.45 230.67,107.30" fill="none" stroke="#b81e28" stroke-width="0.95" stroke-linejoin="miter"/>
<polygon points="233.90,93.35 234.63,95.10 236.52,95.25 235.08,96.48 235.52,98.32 233.90,97.34 232.28,98.32 232.72,96.48 231.28,95.25 233.17,95.10" fill="none" stroke="#b81e28" stroke-width="0.95" stroke-linejoin="miter"/>
<polygon points="236.10,79.85 236.83,81.60 238.72,81.75 237.28,82.98 237.72,84.82 236.10,83.84 234.48,84.82 234.92,82.98 233.48,81.75 235.37,81.60" fill="none" stroke="#b81e28" stroke-width="0.95" stroke-linejoin="miter"/>
<polygon points="238.50,64.55 239.23,66.30 241.12,66.45 239.68,67.68 240.12,69.52 238.50,68.54 236.88,69.52 237.32,67.68 235.88,66.45 237.77,66.30" fill="none" stroke="#b81e28" stroke-width="0.95" stroke-linejoin="miter"/>
<polygon points="240.70,50.45 241.43,52.20 243.32,52.35 241.88,53.58 242.32,55.42 240.70,54.44 239.08,55.42 239.52,53.58 238.08,52.35 239.97,52.20" fill="none" stroke="#b81e28" stroke-width="0.95" stroke-linejoin="miter"/>
<polygon points="243.00,37.95 243.73,39.70 245.62,39.85 244.18,41.08 244.62,42.92 243.00,41.94 241.38,42.92 241.82,41.08 240.38,39.85 242.27,39.70" fill="none" stroke="#b81e28" stroke-width="0.95" stroke-linejoin="miter"/>
<polygon points="245.20,27.45 245.93,29.20 247.82,29.35 246.38,30.58 246.82,32.42 245.20,31.44 243.58,32.42 244.02,30.58 242.58,29.35 244.47,29.20" fill="none" stroke="#b81e28" stroke-width="0.95" stroke-linejoin="miter"/>
<polygon points="247.40,22.15 248.13,23.90 250.02,24.05 248.58,25.28 249.02,27.12 247.40,26.14 245.78,27.12 246.22,25.28 244.78,24.05 246.67,23.90" fill="none" stroke="#b81e28" stroke-width="0.95" stroke-linejoin="miter"/>
<polygon points="249.80,23.75 250.53,25.50 252.42,25.65 250.98,26.88 251.42,28.72 249.80,27.74 248.18,28.72 248.62,26.88 247.18,25.65 249.07,25.50" fill="none" stroke="#b81e28" stroke-width="0.95" stroke-linejoin="miter"/>
<polygon points="251.80,28.75 252.53,30.50 254.42,30.65 252.98,31.88 253.42,33.72 251.80,32.74 250.18,33.72 250.62,31.88 249.18,30.65 251.07,30.50" fill="none" stroke="#b81e28" stroke-width="0.95" stroke-linejoin="miter"/>
<polygon points="254.10,42.65 254.83,44.40 256.72,44.55 255.28,45.78 255.72,47.62 254.10,46.64 252.48,47.62 252.92,45.78 251.48,44.55 253.37,44.40" fill="none" stroke="#b81e28" stroke-width="0.95" stroke-linejoin="miter"/>
<polygon points="256.40,58.75 257.13,60.50 259.02,60.65 257.58,61.88 258.02,63.72 256.40,62.74 254.78,63.72 255.22,61.88 253.78,60.65 255.67,60.50" fill="none" stroke="#b81e28" stroke-width="0.95" stroke-linejoin="miter"/>
<polygon points="258.60,78.25 259.33,80.00 261.22,80.15 259.78,81.38 260.22,83.22 258.60,82.24 256.98,83.22 257.42,81.38 255.98,80.15 257.87,80.00" fill="none" stroke="#b81e28" stroke-width="0.95" stroke-linejoin="miter"/>
<polygon points="260.80,101.25 261.53,103.00 263.42,103.15 261.98,104.38 262.42,106.22 260.80,105.24 259.18,106.22 259.62,104.38 258.18,103.15 260.07,103.00" fill="none" stroke="#b81e28" stroke-width="0.95" stroke-linejoin="miter"/>
<polygon points="263.20,121.75 263.93,123.50 265.82,123.65 264.38,124.88 264.82,126.72 263.20,125.74 261.58,126.72 262.02,124.88 260.58,123.65 262.47,123.50" fill="none" stroke="#b81e28" stroke-width="0.95" stroke-linejoin="miter"/>
<polygon points="265.50,139.55 266.23,141.30 268.12,141.45 266.68,142.68 267.12,144.52 265.50,143.54 263.88,144.52 264.32,142.68 262.88,141.45 264.77,141.30" fill="none" stroke="#b81e28" stroke-width="0.95" stroke-linejoin="miter"/>
<polygon points="267.80,155.35 268.53,157.10 270.42,157.25 268.98,158.48 269.42,160.32 267.80,159.34 266.18,160.32 266.62,158.48 265.18,157.25 267.07,157.10" fill="none" stroke="#b81e28" stroke-width="0.95" stroke-linejoin="miter"/>
<polygon points="270.10,166.25 270.83,168.00 272.72,168.15 271.28,169.38 271.72,171.22 270.10,170.24 268.48,171.22 268.92,169.38 267.48,168.15 269.37,168.00" fill="none" stroke="#b81e28" stroke-width="0.95" stroke-linejoin="miter"/>
<polygon points="272.00,176.75 272.73,178.50 274.62,178.65 273.18,179.88 273.62,181.72 272.00,180.74 270.38,181.72 270.82,179.88 269.38,178.65 271.27,178.50" fill="none" stroke="#b81e28" stroke-width="0.95" stroke-linejoin="miter"/>
<polygon points="274.10,182.95 274.83,184.70 276.72,184.85 275.28,186.08 275.72,187.92 274.10,186.94 272.48,187.92 272.92,186.08 271.48,184.85 273.37,184.70" fill="none" stroke="#b81e28" stroke-width="0.95" stroke-linejoin="miter"/>
<polygon points="276.80,189.15 277.53,190.90 279.42,191.05 277.98,192.28 278.42,194.12 276.80,193.14 275.18,194.12 275.62,192.28 274.18,191.05 276.07,190.90" fill="none" stroke="#b81e28" stroke-width="0.95" stroke-linejoin="miter"/>
<polygon points="279.30,194.25 280.03,196.00 281.92,196.15 280.48,197.38 280.92,199.22 279.30,198.24 277.68,199.22 278.12,197.38 276.68,196.15 278.57,196.00" fill="none" stroke="#b81e28" stroke-width="0.95" stroke-linejoin="miter"/>
<polygon points="282.40,197.75 283.13,199.50 285.02,199.65 283.58,200.88 284.02,202.72 282.40,201.74 280.78,202.72 281.22,200.88 279.78,199.65 281.67,199.50" fill="none" stroke="#b81e28" stroke-width="0.95" stroke-linejoin="miter"/>
<polygon points="285.00,199.85 285.73,201.60 287.62,201.75 286.18,202.98 286.62,204.82 285.00,203.84 283.38,204.82 283.82,202.98 282.38,201.75 284.27,201.60" fill="none" stroke="#b81e28" stroke-width="0.95" stroke-linejoin="miter"/>
<polygon points="287.90,201.55 288.63,203.30 290.52,203.45 289.08,204.68 289.52,206.52 287.90,205.54 286.28,206.52 286.72,204.68 285.28,203.45 287.17,203.30" fill="none" stroke="#b81e28" stroke-width="0.95" stroke-linejoin="miter"/>
<rect x="322.20" y="206.60" width="4.40" height="4.40" rx="1.1" fill="none" stroke="#d058d0" stroke-width="1.3"/>
<rect x="329.03" y="206.60" width="4.40" height="4.40" rx="1.1" fill="none" stroke="#d058d0" stroke-width="1.3"/>
<rect x="335.86" y="206.60" width="4.40" height="4.40" rx="1.1" fill="none" stroke="#d058d0" stroke-width="1.3"/>
<rect x="342.69" y="206.60" width="4.40" height="4.40" rx="1.1" fill="none" stroke="#d058d0" stroke-width="1.3"/>
<rect x="349.52" y="206.60" width="4.40" height="4.40" rx="1.1" fill="none" stroke="#d058d0" stroke-width="1.3"/>
<rect x="356.35" y="206.60" width="4.40" height="4.40" rx="1.1" fill="none" stroke="#d058d0" stroke-width="1.3"/>
<rect x="363.18" y="206.60" width="4.40" height="4.40" rx="1.1" fill="none" stroke="#d058d0" stroke-width="1.3"/>
<rect x="370.01" y="206.60" width="4.40" height="4.40" rx="1.1" fill="none" stroke="#d058d0" stroke-width="1.3"/>
<rect x="376.84" y="206.60" width="4.40" height="4.40" rx="1.1" fill="none" stroke="#d058d0" stroke-width="1.3"/>
<rect x="383.67" y="206.60" width="4.40" height="4.40" rx="1.1" fill="none" stroke="#d058d0" stroke-width="1.3"/>
<rect x="390.50" y="206.60" width="4.40" height="4.40" rx="1.1" fill="none" stroke="#d058d0" stroke-width="1.3"/>
<rect x="397.33" y="206.60" width="4.40" height="4.40" rx="1.1" fill="none" stroke="#d058d0" stroke-width="1.3"/>
<rect x="404.16" y="206.60" width="4.40" height="4.40" rx="1.1" fill="none" stroke="#d058d0" stroke-width="1.3"/>
<rect x="410.99" y="206.60" width="4.40" height="4.40" rx="1.1" fill="none" stroke="#d058d0" stroke-width="1.3"/>
<rect x="417.82" y="206.60" width="4.40" height="4.40" rx="1.1" fill="none" stroke="#d058d0" stroke-width="1.3"/>
<rect x="424.65" y="206.60" width="4.40" height="4.40" rx="1.1" fill="none" stroke="#d058d0" stroke-width="1.3"/>
<rect x="431.48" y="206.60" width="4.40" height="4.40" rx="1.1" fill="none" stroke="#d058d0" stroke-width="1.3"/>
<path d="M322.80 195.00H327.60M325.20 192.60V197.40" stroke="#3a3a7c" stroke-width="0.9" fill="none"/>
<path d="M325.50 192.90H330.30M327.90 190.50V195.30" stroke="#3a3a7c" stroke-width="0.9" fill="none"/>
<path d="M327.90 190.80H332.70M330.30 188.40V193.20" stroke="#3a3a7c" stroke-width="0.9" fill="none"/>
<path d="M331.00 188.80H335.80M333.40 186.40V191.20" stroke="#3a3a7c" stroke-width="0.9" fill="none"/>
<path d="M334.10 184.60H338.90M336.50 182.20V187.00" stroke="#3a3a7c" stroke-width="0.9" fill="none"/>
<path d="M337.20 179.90H342.00M339.60 177.50V182.30" stroke="#3a3a7c" stroke-width="0.9" fill="none"/>
<path d="M339.90 174.30H344.70M342.30 171.90V176.70" stroke="#3a3a7c" stroke-width="0.9" fill="none"/>
<path d="M342.80 167.50H347.60M345.20 165.10V169.90" stroke="#3a3a7c" stroke-width="0.9" fill="none"/>
<path d="M345.70 160.60H350.50M348.10 158.20V163.00" stroke="#3a3a7c" stroke-width="0.9" fill="none"/>
<path d="M348.70 154.00H353.50M351.10 151.60V156.40" stroke="#3a3a7c" stroke-width="0.9" fill="none"/>
<path d="M351.50 148.20H356.30M353.90 145.80V150.60" stroke="#3a3a7c" stroke-width="0.9" fill="none"/>
<path d="M353.90 142.80H358.70M356.30 140.40V145.20" stroke="#3a3a7c" stroke-width="0.9" fill="none"/>
<path d="M355.80 140.50H360.60M358.20 138.10V142.90" stroke="#3a3a7c" stroke-width="0.9" fill="none"/>
<path d="M357.90 138.20H362.70M360.30 135.80V140.60" stroke="#3a3a7c" stroke-width="0.9" fill="none"/>
<path d="M360.20 135.80H365.00M362.60 133.40V138.20" stroke="#3a3a7c" stroke-width="0.9" fill="none"/>
<path d="M362.40 133.40H367.20M364.80 131.00V135.80" stroke="#3a3a7c" stroke-width="0.9" fill="none"/>
<path d="M364.90 128.00H369.70M367.30 125.60V130.40" stroke="#3a3a7c" stroke-width="0.9" fill="none"/>
<path d="M368.20 121.20H373.00M370.60 118.80V123.60" stroke="#3a3a7c" stroke-width="0.9" fill="none"/>
<path d="M371.00 110.20H375.80M373.40 107.80V112.60" stroke="#3a3a7c" stroke-width="0.9" fill="none"/>
<path d="M373.70 96.50H378.50M376.10 94.10V98.90" stroke="#3a3a7c" stroke-width="0.9" fill="none"/>
<path d="M376.50 79.00H381.30M378.90 76.60V81.40" stroke="#3a3a7c" stroke-width="0.9" fill="none"/>
<path d="M379.40 61.20H384.20M381.80 58.80V63.60" stroke="#3a3a7c" stroke-width="0.9" fill="none"/>
<path d="M382.20 44.50H387.00M384.60 42.10V46.90" stroke="#3a3a7c" stroke-width="0.9" fill="none"/>
<path d="M384.90 31.20H389.70M387.30 28.80V33.60" stroke="#3a3a7c" stroke-width="0.9" fill="none"/>
<path d="M387.40 24.50H392.20M389.80 22.10V26.90" stroke="#3a3a7c" stroke-width="0.9" fill="none"/>
<path d="M389.80 24.00H394.60M392.20 21.60V26.40" stroke="#3a3a7c" stroke-width="0.9" fill="none"/>
<path d="M391.50 25.20H396.30M393.90 22.80V27.60" stroke="#3a3a7c" stroke-width="0.9" fill="none"/>
<path d="M393.60 26.50H398.40M396.00 24.10V28.90" stroke="#3a3a7c" stroke-width="0.9" fill="none"/>
<path d="M395.90 35.10H400.70M398.30 32.70V37.50" stroke="#3a3a7c" stroke-width="0.9" fill="none"/>
<path d="M399.20 54.90H404.00M401.60 52.50V57.30" stroke="#3a3a7c" stroke-width="0.9" fill="none"/>
<path d="M401.90 79.40H406.70M404.30 77.00V81.80" stroke="#3a3a7c" stroke-width="0.9" fill="none"/>
<path d="M404.60 107.70H409.40M407.00 105.30V110.10" stroke="#3a3a7c" stroke-width="0.9" fill="none"/>
<path d="M407.40 133.40H412.20M409.80 131.00V135.80" stroke="#3a3a7c" stroke-width="0.9" fill="none"/>
<path d="M410.10 155.10H414.90M412.50 152.70V157.50" stroke="#3a3a7c" stroke-width="0.9" fill="none"/>
<path d="M413.00 170.50H417.80M415.40 168.10V172.90" stroke="#3a3a7c" stroke-width="0.9" fill="none"/>
<path d="M415.90 182.00H420.70M418.30 179.60V184.40" stroke="#3a3a7c" stroke-width="0.9" fill="none"/>
<path d="M418.80 191.30H423.60M421.20 188.90V193.70" stroke="#3a3a7c" stroke-width="0.9" fill="none"/>
<path d="M421.60 197.60H426.40M424.00 195.20V200.00" stroke="#3a3a7c" stroke-width="0.9" fill="none"/>
<path d="M424.60 201.40H429.40M427.00 199.00V203.80" stroke="#3a3a7c" stroke-width="0.9" fill="none"/>
<path d="M427.40 204.30H432.20M429.80 201.90V206.70" stroke="#3a3a7c" stroke-width="0.9" fill="none"/>
<path d="M430.30 205.70H435.10M432.70 203.30V208.10" stroke="#3a3a7c" stroke-width="0.9" fill="none"/>
<polygon points="44.80,9.65 45.53,11.40 47.42,11.55 45.98,12.78 46.42,14.62 44.80,13.64 43.18,14.62 43.62,12.78 42.18,11.55 44.07,11.40" fill="none" stroke="#b81e28" stroke-width="0.95" stroke-linejoin="miter"/>
<text x="54.20" y="15.40" font-size="8.7" text-anchor="start" >0.15</text>
<polygon points="44.80,20.45 47.65,23.30 44.80,26.15 41.95,23.30" fill="none" stroke="#2a2a9e" stroke-width="1.0"/>
<text x="54.20" y="26.30" font-size="8.7" text-anchor="start" >0.1</text>
<polygon points="42.00,31.94 47.60,31.94 44.80,36.42" fill="none" stroke="#111" stroke-width="0.95"/>
<text x="54.20" y="36.90" font-size="8.7" text-anchor="start" >0.07</text>
<circle cx="44.80" cy="44.20" r="2.45" fill="none" stroke="#3ec43e" stroke-width="1.0"/>
<text x="54.20" y="47.20" font-size="8.7" text-anchor="start" >0.05</text>
<rect x="42.60" y="52.30" width="4.40" height="4.40" rx="1.1" fill="none" stroke="#d058d0" stroke-width="1.3"/>
<text x="54.20" y="57.50" font-size="8.7" text-anchor="start" >0.01</text>
<polygon points="192.60,9.45 193.33,11.20 195.22,11.35 193.78,12.58 194.22,14.42 192.60,13.44 190.98,14.42 191.42,12.58 189.98,11.35 191.87,11.20" fill="none" stroke="#b81e28" stroke-width="0.95" stroke-linejoin="miter"/>
<text x="202.20" y="15.20" font-size="8.7" text-anchor="start" >0.15</text>
<polygon points="192.60,20.45 195.45,23.30 192.60,26.15 189.75,23.30" fill="none" stroke="#2a2a9e" stroke-width="1.0"/>
<text x="202.20" y="26.30" font-size="8.7" text-anchor="start" >0.1</text>
<polygon points="189.80,35.56 195.40,35.56 192.60,31.08" fill="none" stroke="#111" stroke-width="0.95"/>
<text x="202.20" y="36.60" font-size="8.7" text-anchor="start" >0.08</text>
<circle cx="192.60" cy="44.20" r="2.45" fill="none" stroke="#3ec43e" stroke-width="1.0"/>
<text x="202.20" y="47.20" font-size="8.7" text-anchor="start" >0.05</text>
<path d="M190.20 54.90H195.00M192.60 52.50V57.30" stroke="#3a3a7c" stroke-width="0.9" fill="none"/>
<text x="202.20" y="57.90" font-size="8.7" text-anchor="start" >0.03</text>
<rect x="190.40" y="62.90" width="4.40" height="4.40" rx="1.1" fill="none" stroke="#d058d0" stroke-width="1.3"/>
<text x="202.20" y="68.10" font-size="8.7" text-anchor="start" >0.01</text>
<path d="M332.00 12.90H336.80M334.40 10.50V15.30" stroke="#3a3a7c" stroke-width="0.9" fill="none"/>
<text x="343.30" y="15.90" font-size="8.7" text-anchor="start" >0.03</text>
<rect x="332.20" y="21.10" width="4.40" height="4.40" rx="1.1" fill="none" stroke="#d058d0" stroke-width="1.3"/>
<text x="343.30" y="26.30" font-size="8.7" text-anchor="start" >0.01</text>
</svg>
</body></html>
